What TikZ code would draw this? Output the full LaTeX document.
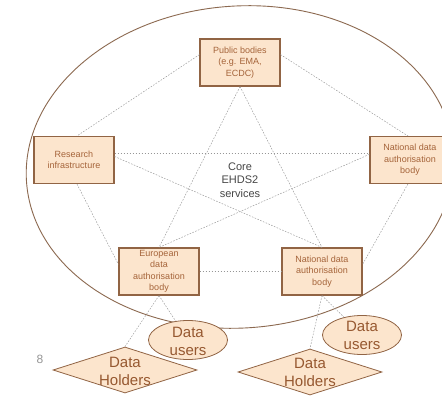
\documentclass[tikz,border=0pt]{standalone}
\usepackage{fontspec}
\setmainfont{Liberation Sans}
\usetikzlibrary{shapes.geometric}
\definecolor{boxfill}{RGB}{252,229,205}
\definecolor{boxline}{RGB}{145,100,68}
\definecolor{boxtext}{RGB}{165,100,58}
\definecolor{bigtextcol}{RGB}{150,88,48}
\definecolor{ringcol}{RGB}{140,105,80}
\definecolor{linkgray}{RGB}{150,150,150}
\definecolor{coretext}{RGB}{70,70,70}
\definecolor{pagegray}{RGB}{150,150,150}
\begin{document}
\begin{tikzpicture}[x=1pt,y=-1pt,
  box/.style={draw=boxline, line width=1.1pt, fill=boxfill, minimum width=80pt,
    minimum height=47pt, inner sep=0pt, align=center, text=boxtext,
    font=\fontsize{9}{11.5}\selectfont},
  link/.style={draw=linkgray, line width=0.45pt, dash pattern=on 1.6pt off 1.4pt},
  usershape/.style={ellipse, draw=boxline, line width=0.8pt, fill=boxfill,
    minimum width=79pt, minimum height=39pt, inner sep=0pt},
  holdershape/.style={diamond, draw=boxline, line width=0.8pt, fill=boxfill,
    minimum width=144pt, minimum height=46pt, inner sep=0pt},
  bigtext/.style={text=bigtextcol, align=center, font=\fontsize{15}{18}\selectfont, inner sep=0pt},
  coresty/.style={text=coretext, align=center, font=\fontsize{11}{13.5}\selectfont, inner sep=0pt},
  ring/.style={draw=ringcol, line width=0.9pt},
  pagenum/.style={text=pagegray, font=\fontsize{12}{14}\selectfont, inner sep=0pt}
]
\useasboundingbox (0,0) rectangle (442,396);
\fill[white] (0,0) rectangle (442,396);

% big ring
\coordinate (ringc) at (240,167);
\draw[ring, rotate around={4:(ringc)}] (ringc) ellipse [x radius=214pt, y radius=161pt];

% boxes
\node[box] (pub) at (240,62.5) {Public bodies\\(e.g. EMA,\\ECDC)};
\node[box] (res) at (74,160) {Research\\infrastructure};
\node[box] (nr) at (410,160) {National data\\authorisation\\body};
\node[box] (eur) at (159,271.5) {European\\data\\authorisation\\body};
\node[box] (nb) at (322,271.5) {National data\\authorisation\\body};
\node[coresty] (core) at (240,180) {Core\\EHDS2\\services};

% users and holders
\node[usershape] (du1) at (188,340) {};
\node[bigtext] (du1t) at (188,341) {Data\\users};
\node[usershape] (du2) at (362,335) {};
\node[bigtext] (du2t) at (362,335.5) {Data\\users};
\node[holdershape] (dh1) at (125,370) {};
\node[bigtext] (dh1t) at (125,371) {Data\\Holders};
\node[holdershape] (dh2) at (310,372) {};
\node[bigtext] (dh2t) at (310,372.5) {Data\\Holders};

\node[pagenum] (pnum) at (40,359) {8};

% connectors
\draw[link] (pub.169) -- (res.83);
\draw[link] (pub.11) -- (nr.95);
\draw[link] (pub.south) -- (eur.north);
\draw[link] (pub.south) -- (nb.north);
\draw[link] (res.10) -- (nr.170);
\draw[link] (res.5) -- (nb.north);
\draw[link] (nr.172) -- (eur.north);
\draw[link] (res.277) -- (eur.170);
\draw[link] (nr.265) -- (nb.10);
\draw[link] (eur.east) -- (nb.west);
\draw[link] (eur.south) -- (dh1.north);
\draw[link] (eur.south) -- (du1);
\draw[link] (nb.south) -- (dh2.north);
\draw[link] (nb.south) -- (du2);
\end{tikzpicture}
\end{document}
